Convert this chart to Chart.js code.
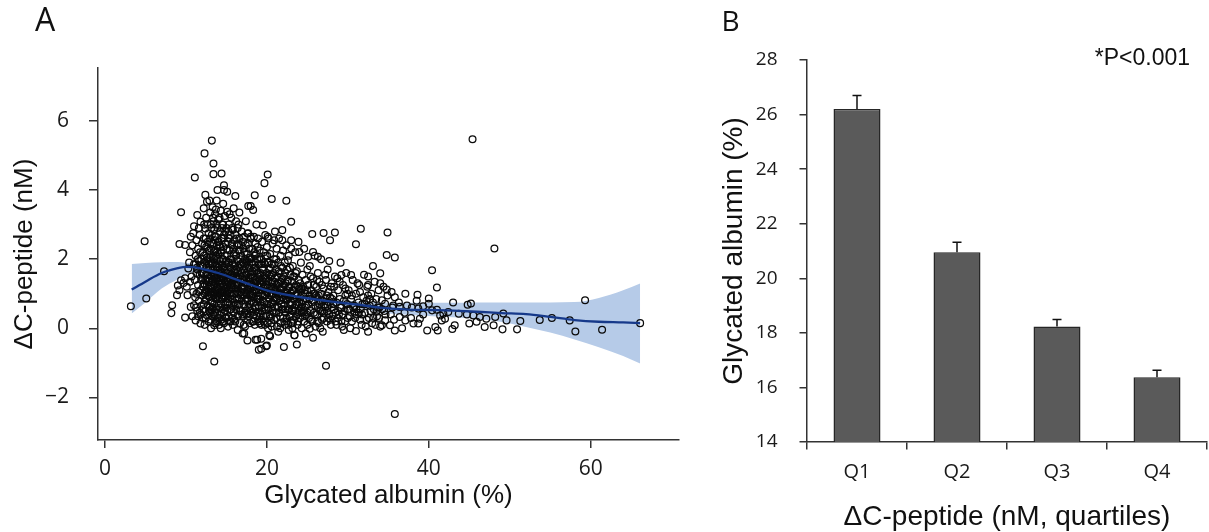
<!DOCTYPE html>
<html><head><meta charset="utf-8">
<script src="https://cdn.jsdelivr.net/npm/chart.js@4.4.1/dist/chart.umd.min.js"></script>
<style>
html,body{margin:0;padding:0;background:#fff;}
#wrap{position:relative;width:1209px;height:532px;overflow:hidden;background:#fff;}
#left{position:absolute;left:0;top:0;}
#right{position:absolute;left:700px;top:0;}
</style></head><body>
<div id="wrap"><canvas id="left" width="700" height="532"></canvas><canvas id="right" width="509" height="532"></canvas></div>
<script>
// ---------- Panel A data: [glycated albumin %, delta C-peptide nM] ----------
const scatterPoints = [
[3.2,0.64],[5.1,0.86],[4.9,2.52],[7.3,1.65],[8.2,0.44],[8.3,0.67],[8.9,0.96],[9.0,1.24],[9.2,1.1],[9.2,2.44],[9.4,3.36],[9.4,1.39],[9.7,1.31],[9.9,0.31],[9.9,1.45],[9.9,2.41],
[10.1,1.2],[10.2,0.96],[10.3,1.73],[10.4,1.9],[10.5,2.2],[10.6,2.65],[10.6,0.62],[10.7,1.5],[10.8,0.35],[10.8,2.4],[10.9,1.05],[11.0,0.67],[11.0,1.85],[11.1,4.36],[11.0,2.95],[10.5,1.35],[10.9,2.75],
[11.1,1.4],[11.2,0.23],[11.2,2.1],[11.3,1.0],[11.3,2.55],[11.4,3.28],[11.4,0.5],[11.4,1.7],[11.5,1.25],[11.5,2.3],[11.6,0.8],[11.6,1.95],[11.7,0.45],[11.7,1.55],[11.7,2.7],[11.8,3.08],[11.8,0.14],[11.8,1.1],[11.9,2.0],[11.9,0.65],[11.9,1.4],[12.0,2.45],[12.0,0.95],[11.6,2.9],[11.3,1.6],[11.5,0.35],[11.8,1.8],[11.2,1.85],
[12.1,-0.52],[12.1,0.3],[12.1,1.2],[12.1,2.2],[12.2,3.47],[12.2,0.7],[12.2,1.6],[12.2,2.6],[12.3,5.06],[12.3,0.1],[12.3,1.0],[12.3,1.9],[12.4,3.86],[12.4,2.89],[12.4,0.5],[12.4,1.4],[12.5,2.35],[12.5,0.85],[12.5,1.75],[12.5,3.2],[12.6,3.66],[12.6,0.38],[12.6,1.25],[12.6,2.05],[12.7,0.65],[12.7,1.55],[12.7,2.5],[12.7,3.0],[12.8,0.2],[12.8,1.05],[12.8,1.85],[12.8,2.75],[12.9,3.7],[12.9,0.9],[12.9,1.45],[12.9,2.25],[13.0,0.45],[13.0,1.7],[13.0,2.6],[13.0,3.35],[12.2,1.3],[12.5,1.1],[12.7,2.0],[12.9,0.6],[12.3,2.4],[12.6,1.6],[12.8,1.35],[12.4,1.05],
[13.1,0.0],[13.1,0.8],[13.1,1.5],[13.1,2.3],[13.1,3.0],[13.2,5.43],[13.2,0.35],[13.2,1.15],[13.2,1.9],[13.2,2.7],[13.3,0.6],[13.3,1.35],[13.3,2.05],[13.3,3.5],[13.4,4.77],[13.4,4.46],[13.4,0.95],[13.4,1.7],[13.4,2.45],[13.4,3.1],[13.5,-0.96],[13.5,0.09],[13.5,0.7],[13.5,1.25],[13.5,2.0],[13.5,2.85],[13.6,0.45],[13.6,1.05],[13.6,1.6],[13.6,2.25],[13.6,3.3],[13.7,3.44],[13.7,0.2],[13.7,0.85],[13.7,1.45],[13.7,2.1],[13.7,2.65],[13.8,0.55],[13.8,1.2],[13.8,1.8],[13.8,2.4],[13.8,3.7],[13.9,4.0],[13.9,0.3],[13.9,0.95],[13.9,1.55],[13.9,2.9],[14.0,0.65],[14.0,1.35],[14.0,2.15],[14.0,3.15],[13.2,1.6],[13.4,0.4],[13.6,2.55],[13.8,1.0],[13.3,1.85],[13.5,1.5],[13.7,1.1],[13.9,2.0],[13.1,1.25],[13.6,0.15],[14.0,1.75],
[14.1,0.1],[14.1,0.9],[14.1,1.6],[14.1,2.4],[14.2,0.4],[14.2,1.2],[14.2,1.95],[14.2,2.8],[14.3,0.0],[14.3,0.7],[14.3,1.45],[14.3,2.2],[14.3,3.4],[14.4,4.48],[14.4,0.25],[14.4,1.05],[14.4,1.8],[14.4,2.6],[14.5,0.55],[14.5,1.3],[14.5,2.0],[14.5,3.0],[14.6,0.85],[14.6,1.55],[14.6,2.35],[14.6,3.6],[14.7,4.14],[14.7,4.0],[14.7,0.15],[14.7,1.1],[14.7,1.7],[14.7,2.7],[14.8,0.5],[14.8,1.35],[14.8,2.1],[14.8,3.25],[14.9,0.75],[14.9,1.5],[14.9,2.45],[15.0,0.3],[15.0,1.0],[15.0,1.85],[15.0,2.9],[14.2,1.7],[14.4,1.5],[14.6,1.2],[14.8,1.8],[14.5,0.95],[14.3,1.0],[14.9,1.15],[14.1,1.3],[14.6,2.0],[15.0,1.4],[14.4,2.25],
[15.1,3.95],[15.1,3.37],[15.1,0.5],[15.1,1.25],[15.1,2.1],[15.2,0.05],[15.2,0.85],[15.2,1.6],[15.2,2.5],[15.3,0.35],[15.3,1.1],[15.3,1.9],[15.3,3.0],[15.4,0.7],[15.4,1.45],[15.4,2.25],[15.5,0.2],[15.5,1.0],[15.5,1.75],[15.5,2.7],[15.6,0.55],[15.6,1.3],[15.6,2.0],[15.6,3.2],[15.7,0.85],[15.7,1.55],[15.7,2.4],[15.8,0.1],[15.8,1.15],[15.8,1.85],[15.8,2.85],[15.9,3.47],[15.9,0.45],[15.9,1.4],[15.9,2.15],[16.0,0.75],[16.0,1.65],[16.0,2.55],[15.2,1.35],[15.4,1.0],[15.6,1.65],[15.8,1.5],[15.3,2.6],[15.7,0.3],[15.5,1.4],[15.9,1.0],
[16.1,3.83],[16.1,0.2],[16.1,1.0],[16.1,1.8],[16.1,2.7],[16.2,0.55],[16.2,1.3],[16.2,2.1],[16.2,3.1],[16.3,0.85],[16.3,1.6],[16.3,2.4],[16.4,-0.05],[16.4,1.15],[16.4,1.95],[16.4,2.9],[16.5,0.4],[16.5,1.45],[16.5,2.25],[16.6,0.7],[16.6,1.75],[16.6,2.6],[16.6,3.35],[16.7,0.15],[16.7,1.05],[16.7,2.0],[16.8,0.5],[16.8,1.35],[16.8,2.4],[16.9,0.8],[16.9,1.6],[16.9,2.8],[17.0,-0.15],[17.0,1.15],[17.0,1.9],[16.3,1.25],[16.5,1.0],[16.7,1.5],[16.9,1.2],[16.2,1.7],[16.8,1.85],[16.4,0.7],
[17.1,0.35],[17.1,1.4],[17.1,2.3],[17.2,0.7],[17.2,1.7],[17.2,2.65],[17.3,0.05],[17.3,1.05],[17.3,2.0],[17.4,0.5],[17.4,1.3],[17.4,2.4],[17.4,3.1],[17.5,0.85],[17.5,1.6],[17.5,2.15],[17.6,-0.35],[17.6,0.25],[17.6,1.15],[17.6,1.95],[17.7,3.54],[17.7,0.6],[17.7,1.45],[17.7,2.75],[17.8,0.95],[17.8,1.75],[17.8,2.3],[17.9,0.15],[17.9,1.25],[17.9,2.05],[18.0,3.54],[18.0,0.5],[18.0,1.55],[18.0,2.6],[17.2,1.2],[17.5,1.0],[17.8,1.35],[17.3,1.8],[17.6,0.8],[17.9,0.7],
[18.1,0.8],[18.1,1.9],[18.2,0.2],[18.2,1.2],[18.2,2.3],[18.3,3.42],[18.3,0.55],[18.3,1.5],[18.4,0.9],[18.4,1.75],[18.4,2.65],[18.5,3.85],[18.5,0.1],[18.5,1.1],[18.5,2.1],[18.6,-0.33],[18.6,0.65],[18.6,1.4],[18.6,2.45],[18.7,0.35],[18.7,1.65],[18.7,3.0],[18.8,-0.33],[18.8,0.85],[18.8,1.25],[18.8,2.0],[18.9,0.2],[18.9,1.5],[18.9,2.6],[19.0,-0.62],[19.0,0.6],[19.0,1.05],[19.0,1.85],[18.3,1.0],[18.7,1.1],[18.2,1.65],[18.9,0.95],[18.4,0.4],[18.6,1.9],
[19.1,0.35],[19.1,1.3],[19.1,2.25],[19.2,0.75],[19.2,1.6],[19.3,-0.59],[19.3,0.1],[19.3,1.0],[19.3,2.0],[19.4,0.5],[19.4,1.4],[19.4,2.5],[19.5,2.98],[19.5,0.8],[19.5,1.7],[19.6,0.2],[19.6,1.15],[19.6,2.2],[19.7,4.2],[19.7,0.6],[19.7,1.5],[19.8,0.95],[19.8,1.85],[19.8,2.7],[19.9,-0.52],[19.9,0.35],[19.9,1.25],[20.0,-0.5],[20.0,0.7],[20.0,1.6],[20.0,2.35],[19.2,1.1],[19.6,1.35],[19.4,0.25],[19.8,1.45],
[20.1,4.45],[20.1,0.15],[20.1,1.05],[20.1,1.9],[20.2,0.55],[20.2,1.35],[20.2,2.6],[20.3,0.85],[20.3,1.7],[20.4,-0.23],[20.4,0.4],[20.4,1.2],[20.4,2.15],[20.5,0.7],[20.5,1.5],[20.6,3.74],[20.6,0.05],[20.6,1.0],[20.6,1.85],[20.7,0.5],[20.7,1.3],[20.7,2.45],[20.8,0.8],[20.8,1.6],[20.9,0.25],[20.9,1.1],[20.9,2.0],[21.0,0.6],[21.0,1.45],[21.0,2.8],[20.3,1.0],[20.8,1.15],[20.5,0.3],
[21.1,0.9],[21.1,1.7],[21.2,0.3],[21.2,1.25],[21.2,2.3],[21.3,0.65],[21.3,1.5],[21.4,-0.1],[21.4,1.0],[21.4,1.9],[21.5,0.45],[21.5,1.3],[21.5,2.6],[21.6,0.8],[21.6,1.6],[21.7,0.15],[21.7,1.1],[21.7,2.1],[21.8,0.55],[21.8,1.4],[21.9,2.84],[21.9,0.9],[21.9,1.75],[22.0,0.3],[22.0,1.2],[22.0,2.25],[21.3,1.05],[21.6,1.15],[21.8,0.7],
[22.1,-0.54],[22.1,0.65],[22.1,1.5],[22.2,0.1],[22.2,1.0],[22.2,1.9],[22.3,0.45],[22.3,1.3],[22.4,3.69],[22.4,0.8],[22.4,2.4],[22.5,0.2],[22.5,1.1],[22.5,1.7],[22.6,0.55],[22.6,1.4],[22.7,-0.05],[22.7,0.9],[22.7,2.1],[22.8,0.35],[22.8,1.2],[22.9,0.7],[22.9,1.55],[23.0,3.08],[23.0,0.15],[23.0,1.0],[23.0,2.55],[22.6,0.95],[22.3,0.85],
[23.1,0.5],[23.1,1.35],[23.2,0.85],[23.2,1.8],[23.3,0.25],[23.3,1.1],[23.4,-0.2],[23.4,0.6],[23.4,1.5],[23.5,0.95],[23.5,2.2],[23.6,0.35],[23.6,1.25],[23.7,-0.47],[23.7,0.7],[23.7,1.65],[23.8,0.1],[23.8,1.0],[23.9,0.45],[23.9,1.4],[23.9,2.5],[24.0,0.75],[24.0,1.15],[23.5,0.5],[23.2,0.15],
[24.1,0.3],[24.1,1.3],[24.2,0.6],[24.2,1.9],[24.3,0.0],[24.3,0.95],[24.4,0.45],[24.4,1.55],[24.5,0.8],[24.5,1.2],[24.6,0.2],[24.6,2.3],[24.7,0.6],[24.7,1.0],[24.8,-0.15],[24.8,1.4],[24.9,0.4],[24.9,0.85],[25.0,1.7],[25.0,0.1],[24.4,1.15],[24.7,0.35],
[25.1,0.7],[25.1,1.25],[25.2,0.3],[25.3,0.95],[25.3,1.8],[25.4,0.5],[25.5,1.1],[25.6,2.73],[25.6,0.2],[25.7,-0.27],[25.7,0.8],[25.7,1.45],[25.8,0.45],[25.9,1.0],[25.9,2.1],[26.0,0.05],[26.0,0.65],[25.4,1.5],[25.8,1.25],
[26.1,1.2],[26.2,0.4],[26.2,0.9],[26.3,1.6],[26.4,0.15],[26.5,0.7],[26.5,1.35],[26.6,0.5],[26.7,1.0],[26.7,2.0],[26.8,0.25],[26.9,0.8],[27.0,2.76],[27.0,1.15],[26.3,0.6],[26.9,-0.1],
[27.1,0.45],[27.2,0.85],[27.3,-1.08],[27.3,1.4],[27.4,0.2],[27.5,0.65],[27.6,1.05],[27.7,1.95],[27.7,0.4],[27.8,2.55],[27.8,0.9],[27.9,0.1],[28.0,0.6],[28.0,1.3],[27.5,1.7],
[28.1,0.35],[28.2,0.95],[28.3,0.55],[28.4,2.77],[28.4,1.5],[28.5,0.2],[28.6,0.75],[28.8,1.1],[28.9,0.4],[29.0,0.85],[29.1,1.9],[29.2,0.6],[29.3,0.05],[29.4,1.25],[29.6,0.5],[29.7,0.95],[29.8,1.6],[30.0,0.3],[29.9,0.7],[28.7,1.45],
[30.1,1.1],[30.2,0.55],[30.4,0.85],[30.5,0.2],[30.6,1.4],[30.8,0.65],[31.0,2.43],[31.0,1.0],[31.1,0.4],[31.3,0.75],[31.4,1.25],[31.6,2.88],[31.6,0.55],[31.7,0.1],[31.9,0.9],[32.0,1.55],[30.9,0.3],[31.5,1.05],
[32.1,0.45],[32.3,0.8],[32.4,1.2],[32.6,0.3],[32.7,0.65],[32.9,1.0],[33.0,0.15],[33.2,0.55],[33.3,1.35],[33.5,0.85],[33.6,0.35],[33.8,1.1],[33.9,0.6],[34.0,0.05],[33.1,1.8],[32.5,1.5],
[26.2,1.4],[26.4,0.95],[26.6,0.0],[26.8,1.25],[27.1,0.7],[27.2,1.55],[27.4,0.95],[27.6,0.3],[27.9,1.2],[28.2,0.7],[28.3,1.2],[28.6,0.1],[28.8,0.5],[29.0,1.35],[29.2,0.2],[29.5,0.8],[29.7,1.15],[30.0,0.55],[30.3,0.0],[30.5,0.95],[30.8,0.45],[31.2,1.3],[31.5,0.25],[31.8,0.7],[32.2,0.05],[32.5,0.95],[32.8,0.5],[33.1,0.75],[33.4,0.1],[33.7,0.6],[29.2,1.54],[30.4,1.54],[32.5,1.25],[32.5,-0.1],[29.5,-0.05],[31.0,-0.08],
[17.6,2.74],[18.0,2.65],[20.1,2.65],[20.9,2.55],[21.9,2.55],[23.0,2.31],[24.0,2.21],[25.1,2.07],[25.7,2.21],[26.3,2.07],[22.6,1.97],
[17.2,-0.15],[20.3,-0.2],[25.3,-0.01],[23.4,-0.2],[19.3,-0.3],
[34.0,1.59],[34.8,2.12],[35.8,2.05],[34.9,2.77],[35.8,-2.48],[40.4,1.68],[41.0,1.18],[37.1,1.0],[38.6,0.97],[40.0,0.86],[43.0,0.75],[44.8,0.68],[45.2,0.72],[45.4,5.47],[48.1,2.31],
[34.0,1.3],[34.4,1.2],[34.8,1.12],[35.4,1.05],[35.8,0.9],[34.2,0.81],[34.6,0.71],[35.6,0.66],[36.4,0.62],[37.3,0.66],[37.9,0.6],[38.7,0.57],[39.3,0.64],[40.0,0.71],[40.4,0.52],[41.0,0.54],[41.8,0.42],[42.4,0.47],[43.7,0.42],[44.7,0.4],[45.5,0.37],[46.3,0.33],[47.1,0.28],[48.2,0.33],[49.2,0.43],[49.6,0.23],[51.3,0.21],[50.9,-0.03],[49.1,-0.03],[48.0,0.09],[46.9,0.04],[45.9,0.19],[45.0,0.14],[43.2,0.09],[42.9,-0.02],[41.1,-0.06],[40.8,0.04],[39.8,-0.06],[38.7,0.14],[38.1,0.14],[37.1,0.23],[36.4,0.33],[35.8,-0.06],[35.2,0.09],[34.6,0.23],[34.2,0.09],[36.7,0.0],[38.9,0.28],[42.0,0.28],[41.6,0.23],[41.4,0.37],
[34.5,0.5],[35.3,0.4],[35.7,0.25],[36.3,0.75],[37.0,0.45],[37.8,0.3],[38.5,0.8],[39.3,0.4],[34.9,0.95],[35.5,0.6],
[53.7,0.24],[55.2,0.3],[57.4,0.23],[58.1,-0.09],[59.3,0.81],[61.4,-0.04],[66.1,0.15],
[11.15,0.9],[11.35,1.75],[11.55,1.05],[11.75,2.2],[11.95,1.6],[11.25,0.6],[11.45,2.0],[11.85,0.4],
[12.05,1.45],[12.15,0.55],[12.25,2.1],[12.35,1.25],[12.45,0.3],[12.55,1.95],[12.65,0.95],[12.75,1.7],[12.85,0.5],[12.95,2.05],[12.15,1.8],[12.35,0.8],[12.55,1.4],[12.75,1.15],[12.95,1.2],[12.45,2.6],[12.65,2.3],[12.25,3.0],
[13.05,1.95],[13.15,0.55],[13.25,2.45],[13.35,1.05],[13.45,1.55],[13.55,0.35],[13.65,1.85],[13.75,0.6],[13.85,1.45],[13.95,1.15],[13.05,1.05],[13.25,0.75],[13.45,2.2],[13.65,0.9],[13.85,2.2],[13.15,2.9],[13.35,3.2],[13.55,2.65],[13.75,3.0],[13.95,2.5],[13.25,1.4],[13.45,1.0],[13.65,1.3],[13.85,0.2],[13.05,0.25],
[14.05,1.0],[14.15,1.85],[14.25,0.6],[14.35,1.6],[14.45,0.85],[14.55,1.75],[14.65,0.45],[14.75,1.45],[14.85,1.05],[14.95,1.95],[14.05,2.5],[14.25,2.35],[14.45,2.9],[14.65,2.6],[14.85,2.8],[14.15,0.3],[14.35,1.2],[14.55,1.1],[14.75,0.9],[14.95,0.6],[14.25,1.4],[14.55,0.2],[14.85,0.3],[14.15,3.2],[14.6,3.0],
[15.05,1.6],[15.15,0.75],[15.25,1.9],[15.35,1.35],[15.45,0.55],[15.55,1.2],[15.65,0.95],[15.75,1.9],[15.85,0.65],[15.95,1.7],[15.05,2.3],[15.25,2.8],[15.45,2.0],[15.65,2.45],[15.85,2.3],[15.15,1.1],[15.35,0.2],[15.55,1.55],[15.75,1.25],[15.95,0.25],[15.4,3.3],[15.7,2.9],
[16.05,1.25],[16.15,0.7],[16.25,1.5],[16.35,0.35],[16.45,1.65],[16.55,1.25],[16.65,0.5],[16.75,1.85],[16.85,1.05],[16.95,0.4],[16.05,2.2],[16.25,2.6],[16.45,2.45],[16.65,2.25],[16.85,2.1],[16.15,1.45],[16.35,1.05],[16.55,0.85],[16.75,0.95],[16.95,1.45],[16.5,3.0],
[17.05,0.95],[17.15,1.85],[17.25,0.45],[17.35,1.55],[17.45,1.0],[17.55,0.4],[17.65,1.65],[17.75,1.1],[17.85,0.55],[17.95,1.45],[17.05,2.5],[17.25,2.2],[17.45,1.9],[17.65,2.45],[17.85,2.0],[17.15,0.1],[17.35,0.8],[17.55,1.3],[17.75,0.35],[17.95,1.0],
[18.05,1.2],[18.15,0.45],[18.25,1.45],[18.35,0.75],[18.45,1.3],[18.55,0.6],[18.65,1.1],[18.75,0.85],[18.85,1.6],[18.95,0.45],[18.05,2.0],[18.25,1.85],[18.45,2.2],[18.65,2.15],[18.85,2.35],[18.15,0.95],[18.35,0.2],[18.55,1.75],[18.75,1.35],[18.95,1.2],
[19.05,0.85],[19.15,1.55],[19.25,0.4],[19.35,1.25],[19.45,0.95],[19.55,1.45],[19.65,0.75],[19.75,1.2],[19.85,0.55],[19.95,1.05],[19.05,2.0],[19.25,1.85],[19.45,1.75],[19.65,1.9],[19.85,2.1],[19.15,0.15],[19.35,0.65],[19.55,0.35],[19.75,0.1],[19.95,1.45],
[20.05,1.25],[20.15,0.6],[20.25,1.55],[20.35,0.35],[20.45,0.95],[20.55,1.2],[20.65,0.75],[20.75,1.0],[20.85,0.45],[20.95,1.35],[20.05,2.1],[20.25,1.9],[20.45,1.75],[20.65,1.55],[20.85,1.85],[20.15,0.0],[20.55,0.15],[20.95,0.8],
[21.05,1.1],[21.15,0.45],[21.25,0.85],[21.35,1.3],[21.45,0.6],[21.55,1.0],[21.65,0.35],[21.75,1.35],[21.85,1.0],[21.95,0.55],[21.15,2.0],[21.45,1.65],[21.75,1.8],[21.25,0.05],[21.65,0.0],[21.95,1.45],
[22.05,0.85],[22.15,1.25],[22.25,0.55],[22.35,1.05],[22.45,0.3],[22.55,0.85],[22.65,1.2],[22.75,0.55],[22.85,0.95],[22.95,0.4],[22.25,1.6],[22.55,1.35],[22.85,1.75],[22.15,0.2],[22.65,0.1],
[23.05,0.75],[23.15,1.1],[23.25,0.5],[23.35,0.85],[23.45,1.2],[23.55,0.7],[23.65,0.95],[23.75,0.4],[23.85,1.2],[23.95,0.65],[23.25,1.5],[23.55,1.6],[23.85,0.2],[23.15,0.0],
[24.05,0.5],[24.15,0.9],[24.25,1.15],[24.35,0.7],[24.55,0.5],[24.65,1.1],[24.85,0.65],[24.95,1.1],[25.05,0.45],[25.25,0.85],[25.45,0.25],[25.55,0.75],[25.75,1.0],[25.95,0.4],[26.05,0.95],[26.25,0.2],[26.45,0.55],[26.65,0.8],[26.85,0.5],[27.05,0.3],[27.25,0.6],[27.45,0.5],[27.65,0.75],[27.85,0.25],[28.05,0.85],
[28.45,0.45],[28.75,0.3],[29.05,0.6],[29.35,0.4],[29.65,0.2],[29.95,1.0],[30.25,0.35],[30.65,0.6],[31.05,0.55],[31.35,0.45],[31.75,0.4],[32.05,0.7],[32.35,0.25],[32.75,0.85],[33.15,0.3],[33.55,0.5],[33.85,0.3],[34.25,0.55],[34.65,0.4]
];
const loessGA    = [3.3, 5, 7, 9, 10, 11, 12, 14, 16, 18, 20, 22, 25, 28, 31, 34, 37, 40, 43, 46, 49, 52, 55, 58, 61, 64, 66.1];
const loessFit   = [1.12,1.35,1.6,1.74,1.78,1.77,1.72,1.6,1.43,1.26,1.1,0.99,0.87,0.77,0.69,0.6,0.55,0.53,0.51,0.48,0.44,0.41,0.33,0.24,0.19,0.17,0.15];
const loessUpper = [1.86,1.89,1.91,1.92,1.9,1.86,1.8,1.66,1.49,1.32,1.16,1.05,0.93,0.84,0.78,0.75,0.74,0.74,0.74,0.75,0.75,0.75,0.75,0.76,0.88,1.1,1.3];
const loessLower = [0.43,0.75,1.15,1.42,1.55,1.63,1.64,1.54,1.37,1.2,1.04,0.93,0.81,0.7,0.6,0.46,0.4,0.36,0.32,0.27,0.18,0.04,-0.12,-0.32,-0.55,-0.8,-1.02];
const scatterXTicks = [0, 20, 40, 60];
const scatterYTicks = [-2, 0, 2, 4, 6];

// ---------- Panel B data ----------
const quartiles = ['Q1', 'Q2', 'Q3', 'Q4'];
const gaMeans = [26.2, 20.95, 18.23, 16.37];
const gaSE = [0.5, 0.37, 0.26, 0.26];
const barYTicks = [14, 16, 18, 20, 22, 24, 26, 28];

const toXY = (xs, ys) => xs.map((x, i) => ({x: x, y: ys[i]}));
const fixTicks = (vals) => (s) => { s.ticks = vals.map(v => ({value: v})); };
const textPlugin = (id, items) => ({
  id: id,
  afterDraw(chart) {
    const c = chart.ctx;
    items.forEach(t => {
      c.save();
      c.font = t.font; c.fillStyle = '#111';
      c.textAlign = t.align; c.textBaseline = 'middle';
      c.fillText(t.text, t.x, t.y);
      c.restore();
    });
  }
});

new Chart(document.getElementById('left'), {
  type: 'scatter',
  data: { datasets: [
    { type: 'line', data: toXY(loessGA, loessFit), borderColor: '#16398a', borderWidth: 2.3, pointRadius: 0, cubicInterpolationMode: 'monotone', fill: false },
    { type: 'scatter', data: scatterPoints.map(p => ({x: p[0], y: p[1]})), pointStyle: 'circle', pointRadius: 3.4, pointHoverRadius: 3.4, borderColor: '#0a0a0a', borderWidth: 1.25, backgroundColor: 'rgba(0,0,0,0)' },
    { type: 'line', data: toXY(loessGA, loessUpper), borderColor: 'rgba(0,0,0,0)', borderWidth: 0, pointRadius: 0, cubicInterpolationMode: 'monotone', fill: '+1', backgroundColor: '#b6cbe8' },
    { type: 'line', data: toXY(loessGA, loessLower), borderColor: 'rgba(0,0,0,0)', borderWidth: 0, pointRadius: 0, cubicInterpolationMode: 'monotone', fill: false }
  ]},
  options: {
    responsive: false, animation: false, devicePixelRatio: 1,
    layout: { padding: { left: 0, top: 68, right: 21, bottom: 0 } },
    plugins: { legend: { display: false }, tooltip: { enabled: false } },
    scales: {
      x: {
        type: 'linear', min: -0.86, max: 70.9,
        afterBuildTicks: fixTicks(scatterXTicks),
        afterFit: s => { s.height = 92; },
        grid: { display: true, drawOnChartArea: false, drawTicks: true, tickLength: 8, color: '#333', lineWidth: 1.5 },
        border: { display: true, color: '#333', width: 1.5 },
        ticks: { font: { family: 'Open Sans', size: 21 }, color: '#1a1a1a', padding: 8, maxRotation: 0 },
        title: { display: true, text: 'Glycated albumin (%)', font: { family: 'Liberation Sans', size: 26 }, color: '#111', padding: { top: 0, bottom: 21 } }
      },
      y: {
        type: 'linear', min: -3.23, max: 7.53,
        afterBuildTicks: fixTicks(scatterYTicks),
        afterFit: s => { s.width = 98; },
        grid: { display: true, drawOnChartArea: false, drawTicks: true, tickLength: 9, color: '#333', lineWidth: 1.5 },
        border: { display: true, color: '#333', width: 1.5 },
        ticks: { font: { family: 'Open Sans', size: 21 }, color: '#1a1a1a', padding: 20,
                 callback: v => v < 0 ? '\u2212' + Math.abs(v) : String(v) },
        title: { display: true, text: '\u0394C-peptide (nM)', font: { family: 'Liberation Sans', size: 26 }, color: '#111', padding: { top: 9, bottom: 0 } }
      }
    }
  },
  plugins: [textPlugin('labelA', [{ text: 'A', x: 45, y: 22, align: 'center', font: '32px "Open Sans"' }])]
});

const errorBars = {
  id: 'errorBars',
  afterDatasetsDraw(chart) {
    const c = chart.ctx, ys = chart.scales.y;
    const meta = chart.getDatasetMeta(0);
    c.save();
    c.strokeStyle = '#111'; c.lineWidth = 1.5;
    meta.data.forEach((bar, i) => {
      const top = ys.getPixelForValue(gaMeans[i] + gaSE[i]);
      c.beginPath();
      c.moveTo(bar.x, bar.y); c.lineTo(bar.x, top);
      c.moveTo(bar.x - 4.5, top); c.lineTo(bar.x + 4.5, top);
      c.stroke();
    });
    c.restore();
  }
};

new Chart(document.getElementById('right'), {
  type: 'bar',
  data: { labels: quartiles, datasets: [{
    data: gaMeans, backgroundColor: '#5a5a5a', borderColor: '#262626', borderWidth: 1.5, borderSkipped: false,
    barPercentage: 0.47, categoryPercentage: 1
  }]},
  options: {
    responsive: false, animation: false, devicePixelRatio: 1,
    layout: { padding: { left: 0, top: 60, right: 2, bottom: 0 } },
    plugins: { legend: { display: false }, tooltip: { enabled: false } },
    scales: {
      x: {
        afterFit: s => { s.height = 90; },
        grid: { display: true, drawOnChartArea: false, drawTicks: true, tickLength: 7.5, color: '#333', lineWidth: 1.5, offset: true },
        border: { display: true, color: '#333', width: 1.5 },
        ticks: { font: { family: 'Open Sans', size: 20 }, color: '#1a1a1a', padding: 11 },
        title: { display: true, text: '\u0394C-peptide (nM, quartiles)', font: { family: 'Liberation Sans', size: 28, lineHeight: 1 }, color: '#111', padding: { top: 0, bottom: 1 } }
      },
      y: {
        min: 14, max: 28,
        afterBuildTicks: fixTicks(barYTicks),
        afterFit: s => { s.width = 107; },
        grid: { display: true, drawOnChartArea: false, drawTicks: true, tickLength: 7.5, color: '#333', lineWidth: 1.5 },
        border: { display: true, color: '#333', width: 1.5 },
        ticks: { font: { family: 'Open Sans', size: 19 }, color: '#1a1a1a', padding: 22 },
        title: { display: true, text: 'Glycated albumin (%)', font: { family: 'Liberation Sans', size: 28 }, color: '#111', padding: { top: 17, bottom: 0 } }
      }
    }
  },
  plugins: [errorBars, textPlugin('labelsB', [
    { text: 'B', x: 30.5, y: 23, align: 'center', font: '28px "Open Sans"' },
    { text: '*P<0.001', x: 490, y: 59, align: 'right', font: '23px "Liberation Sans"' }
  ])]
});
</script>
</body></html>
